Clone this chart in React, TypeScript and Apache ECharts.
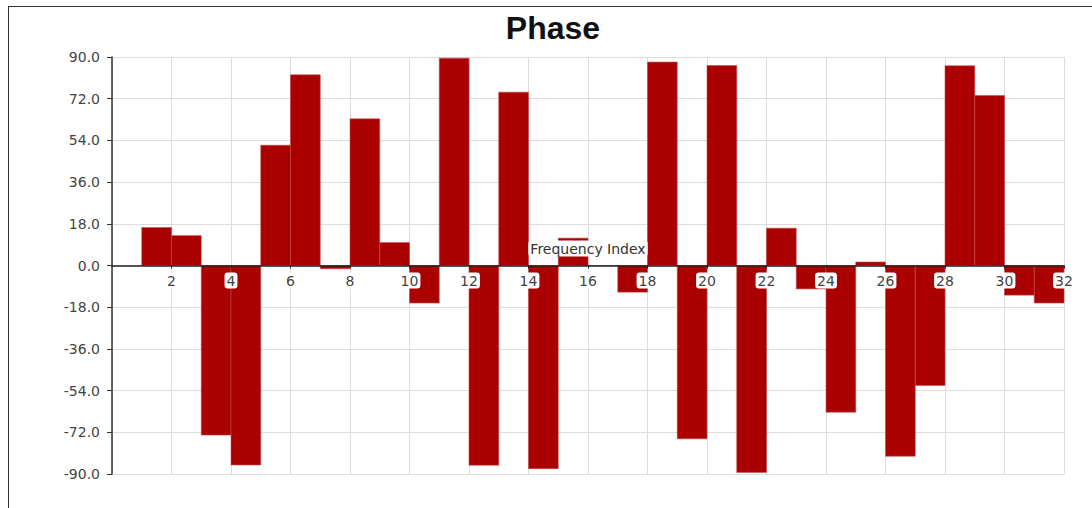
import React, { useEffect, useRef } from "react";
import * as echarts from "echarts";

const titleText = "Phase";
const xAxisName = "Frequency Index";
const frequencyIndex = [1, 2, 3, 4, 5, 6, 7, 8, 9, 10, 11, 12, 13, 14, 15, 16, 17, 18, 19, 20, 21, 22, 23, 24, 25, 26, 27, 28, 29, 30, 31];
const phaseValues = [16.4, 12.9, -73.2, -86.1, 51.9, 82.3, -1.4, 63.3, 9.9, -16.2, 89.5, -86.2, 74.8, -87.7, 11.8, 0, -11.5, 87.8, -74.8, 86.3, -89.3, 16.1, -10.1, -63.3, 1.5, -82.3, -51.8, 86.2, 73.4, -12.8, -16.2];
const xMin = 0;
const xMax = 32;
const xInterval = 2;
const yMin = -90;
const yMax = 90;
const yInterval = 18;

const FONT = "'DejaVu Sans', Verdana, sans-serif";
const GRID_LEFT = 103;
const GRID_TOP = 50;
const GRID_W = 952;
const GRID_H = 417;

export default function App() {
  const ref = useRef<HTMLDivElement>(null);
  useEffect(() => {
    if (!ref.current) return;
    const chart = echarts.init(ref.current, undefined, { renderer: "svg" });
    const data = frequencyIndex.map((k, i) => [k, phaseValues[i]]);
    // second grid whose bottom edge sits on the zero line of the main y axis
    const zeroFrac = (yMax - 0) / (yMax - yMin);
    chart.setOption({
      animation: false,
      backgroundColor: "#fff",
      title: {
        text: titleText,
        left: "center",
        top: 0,
        textStyle: { fontFamily: "'Liberation Sans', Arial, sans-serif", fontSize: 32, fontWeight: "bold", color: "#111" },
      },
      grid: [
        { left: GRID_LEFT, top: GRID_TOP, width: GRID_W, height: GRID_H, containLabel: false },
        { left: GRID_LEFT, top: GRID_TOP, width: GRID_W, height: GRID_H * zeroFrac, containLabel: false },
      ],
      xAxis: [
        {
          type: "value",
          gridIndex: 0,
          min: xMin,
          max: xMax,
          interval: xInterval,
          z: 0,
          axisLine: { show: false, onZero: false },
          axisTick: { show: false },
          axisLabel: { show: false },
          splitLine: { show: true, lineStyle: { color: "#dcdcdc", width: 1 } },
        },
        {
          type: "value",
          gridIndex: 1,
          min: xMin,
          max: xMax,
          interval: xInterval,
          z: 10,
          position: "bottom",
          axisLine: { show: true, onZero: false, lineStyle: { color: "#222", width: 1.5 } },
          axisTick: { show: true, length: 3, lineStyle: { color: "#222" } },
          splitLine: { show: false },
          axisLabel: {
            showMinLabel: false,
            margin: 7,
            fontFamily: FONT,
            fontSize: 14,
            color: "#444",
            backgroundColor: "#fff",
            padding: [1, 2],
            borderRadius: 3,
            formatter: (v: number) => (v === 0 ? "" : String(v)),
          },
          name: xAxisName,
          nameLocation: "middle",
          nameGap: -25,
          nameTextStyle: {
            fontFamily: FONT,
            fontSize: 14,
            color: "#333",
            backgroundColor: "#fff",
            padding: [1, 2],
            borderRadius: 3,
          },
        },
      ],
      yAxis: [
        {
          type: "value",
          gridIndex: 0,
          min: yMin,
          max: yMax,
          interval: yInterval,
          axisLine: { show: true, onZero: false, lineStyle: { color: "#333", width: 1.5 } },
          axisTick: { show: true, length: 5, lineStyle: { color: "#333" } },
          axisLabel: {
            margin: 12,
            fontFamily: FONT,
            fontSize: 14,
            color: "#444",
            formatter: (v: number) => v.toFixed(1),
          },
          splitLine: { show: true, lineStyle: { color: "#dcdcdc", width: 1 } },
        },
        {
          type: "value",
          gridIndex: 1,
          min: 0,
          max: yMax,
          show: false,
        },
      ],
      series: [
        {
          type: "custom",
          xAxisIndex: 0,
          yAxisIndex: 0,
          encode: { x: 0, y: 1 },
          data,
          z: 2,
          renderItem: (params: any, api: any) => {
            const k = api.value(0);
            const v = api.value(1);
            const p0 = api.coord([k, 0]);
            const p1 = api.coord([k + 1, v]);
            return {
              type: "rect",
              shape: {
                x: p0[0],
                y: Math.min(p0[1], p1[1]),
                width: p1[0] - p0[0],
                height: Math.abs(p1[1] - p0[1]),
              },
              style: { fill: "#aa0000", stroke: "#c24a4a", lineWidth: 0.6 },
            };
          },
        },
      ],
    });
    return () => chart.dispose();
  }, []);

  return (
    <div style={{ position: "absolute", left: 8, top: 6, width: 1084, height: 502, overflow: "hidden" }}>
      <div style={{ border: "1px solid #333", width: 1100, height: 520, boxSizing: "border-box" }}>
        <div ref={ref} style={{ width: 1088, height: 518 }} />
      </div>
    </div>
  );
}
